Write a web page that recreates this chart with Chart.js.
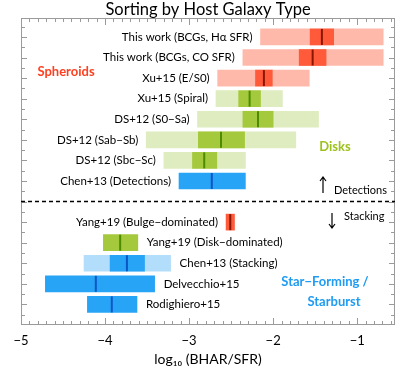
<!DOCTYPE html>
<html lang="en">
<head>
<meta charset="UTF-8" />
<title>Sorting by Host Galaxy Type</title>
<script src="https://cdn.jsdelivr.net/npm/chart.js"></script>
<style>
  html, body { margin: 0; background: #fff; }
  #wrap { width: 407px; height: 370px; }
</style>
</head>
<body>
<div id="wrap"><canvas id="chart"></canvas></div>
<script>
  // values (log10 BHAR/SFR)
  const names = [
    'This work (BCGs, H\u03b1 SFR)',
    'This work (BCGs, CO SFR)',
    'Xu+15 (E/S0)',
    'Xu+15 (Spiral)',
    'DS+12 (S0\u2212Sa)',
    'DS+12 (Sab\u2212Sb)',
    'DS+12 (Sbc\u2212Sc)',
    'Chen+13 (Detections)',
    'Yang+19 (Bulge\u2212dominated)',
    'Yang+19 (Disk\u2212dominated)',
    'Chen+13 (Stacking)',
    'Delvecchio+15',
    'Rodighiero+15'
  ];
  const rows     = [1, 2, 3, 4, 5, 6, 7, 8, 10, 11, 12, 13, 14];
  const outerLo  = [-2.15, -2.36, -2.66, -2.68, -2.90, -3.51, -3.30, null, null, null, -4.25, null, null];
  const outerHi  = [-0.69, -0.69, -1.57, -1.89, -1.46, -1.73, -2.33, null, null, null, -3.22, null, null];
  const innerLo  = [-1.56, -1.69, -2.21, -2.41, -2.36, -2.89, -2.96, -3.12, -2.56, -4.02, -3.94, -4.71, -4.21];
  const innerHi  = [-1.28, -1.37, -2.01, -2.15, -2.00, -2.34, -2.67, -2.33, -2.46, -3.61, -3.53, -3.41, -3.62];
  const medians  = [-1.42, -1.53, -2.11, -2.28, -2.18, -2.62, -2.82, -2.73, -2.51, -3.82, -3.74, -4.11, -3.92];
  const hostType = ['sph', 'sph', 'sph', 'disk', 'disk', 'disk', 'disk', 'sf', 'sph', 'disk', 'sf', 'sf', 'sf'];
  const xTicks   = [-5, -4, -3, -2, -1];

  const palette = {
    sph:  { outer: '#ffb9ab', inner: '#ff5b3b', median: '#8a1500' },
    disk: { outer: '#deecbf', inner: '#a5c93d', median: '#4d8c00' },
    sf:   { outer: '#b3defb', inner: '#27a4f6', median: '#0b56c4' }
  };
  const FONT = 'Lato, "DejaVu Sans", sans-serif';

  const outerData = rows.map((r, i) => ({ y: r, x: [outerLo[i], outerHi[i]], t: hostType[i] }))
                        .filter(d => d.x[0] !== null);
  const innerData = rows.map((r, i) => ({ y: r, x: [innerLo[i], innerHi[i]], t: hostType[i] }));
  const medData   = rows.map((r, i) => ({ y: r, x: medians[i] }));

  function arrow(ctx, x, y0, y1) {
    const dir = y1 < y0 ? -1 : 1;
    ctx.beginPath();
    ctx.moveTo(x, y0); ctx.lineTo(x, y1);
    ctx.moveTo(x - 3, y1 - dir * 4); ctx.lineTo(x, y1); ctx.lineTo(x + 3, y1 - dir * 4);
    ctx.stroke();
  }

  const overlay = {
    id: 'overlay',
    afterDatasetsDraw(chart) {
      const { ctx, chartArea: a, scales: { x, y } } = chart;
      ctx.save();

      // frame with inward ticks
      ctx.strokeStyle = '#9a9a9a';
      ctx.lineWidth = 1;
      ctx.strokeRect(a.left + 0.5, a.top + 0.5, a.width - 1, a.height - 1);
      ctx.beginPath();
      for (let k = -50; k <= -6; k++) {
        const px = Math.round(x.getPixelForValue(k / 10)) + 0.5;
        const len = k % 10 === 0 ? 7 : 4;
        ctx.moveTo(px, a.bottom); ctx.lineTo(px, a.bottom - len);
        ctx.moveTo(px, a.top); ctx.lineTo(px, a.top + len);
      }
      for (let k = 1; k <= 29; k++) {
        const py = Math.round(y.getPixelForValue(k / 2)) + 0.5;
        const len = k % 2 === 0 ? 6 : 4;
        ctx.moveTo(a.left, py); ctx.lineTo(a.left + len, py);
        ctx.moveTo(a.right, py); ctx.lineTo(a.right - len, py);
      }
      ctx.stroke();

      // detections / stacking divider
      const yd = y.getPixelForValue(9);
      ctx.strokeStyle = '#000';
      ctx.lineWidth = 1.5;
      ctx.setLineDash([4, 3]);
      ctx.beginPath();
      ctx.moveTo(a.left, yd); ctx.lineTo(a.right, yd);
      ctx.stroke();
      ctx.setLineDash([]);

      // bar labels
      ctx.fillStyle = '#000';
      ctx.font = '11.5px ' + FONT;
      ctx.textBaseline = 'middle';
      rows.forEach((r, i) => {
        const py = y.getPixelForValue(r);
        if (i < 9) {
          const lo = outerLo[i] !== null ? outerLo[i] : innerLo[i];
          ctx.textAlign = 'right';
          ctx.fillText(names[i], x.getPixelForValue(lo) - 8, py);
        } else {
          const hi = outerHi[i] !== null ? outerHi[i] : innerHi[i];
          ctx.textAlign = 'left';
          ctx.fillText(names[i], x.getPixelForValue(hi) + 9, py);
        }
      });

      // arrows
      ctx.lineWidth = 1.2;
      arrow(ctx, 323, 193, 177);
      arrow(ctx, 332, 213, 228);
      ctx.textAlign = 'left';
      ctx.font = '11px ' + FONT;
      ctx.fillText('Detections', 334, 190);
      ctx.fillText('Stacking', 344, 216);

      // group names
      ctx.font = 'bold 13px ' + FONT;
      ctx.textAlign = 'center';
      ctx.fillStyle = '#ff4020';
      ctx.fillText('Spheroids', 66, 72);
      ctx.fillStyle = '#9cc21c';
      ctx.fillText('Disks', 335, 147);
      ctx.fillStyle = '#1f9cf2';
      ctx.fillText('Star\u2212Forming /', 325, 282);
      ctx.fillText('Starburst', 334, 302);

      ctx.restore();
    }
  };

  new Chart(document.getElementById('chart'), {
    type: 'bar',
    data: {
      datasets: [
        {
          type: 'scatter',
          data: medData,
          pointStyle: 'line',
          pointRotation: 90,
          pointRadius: 8,
          pointBorderWidth: 2,
          pointBorderColor: hostType.map(t => palette[t].median),
          order: 0
        },
        {
          data: innerData,
          backgroundColor: c => palette[c.raw.t].inner,
          barThickness: 16,
          grouped: false,
          order: 1
        },
        {
          data: outerData,
          backgroundColor: c => palette[c.raw.t].outer,
          barThickness: 16,
          grouped: false,
          order: 2
        }
      ]
    },
    options: {
      indexAxis: 'y',
      responsive: true,
      maintainAspectRatio: false,
      animation: false,
      events: [],
      layout: { padding: { left: 21, right: 12 } },
      plugins: {
        legend: { display: false },
        tooltip: { enabled: false },
        title: {
          display: true,
          text: 'Sorting by Host Galaxy Type',
          color: '#000',
          font: { family: FONT, size: 16.5, weight: 'normal', lineHeight: 1 },
          padding: { top: 1, bottom: 0.5 }
        }
      },
      scales: {
        x: {
          type: 'linear',
          position: 'bottom',
          min: -5,
          max: -0.55,
          grid: { display: false, drawTicks: false },
          border: { display: false },
          afterBuildTicks: s => { s.ticks = xTicks.map(v => ({ value: v })); },
          afterFit: s => { s.height = 45; },
          ticks: {
            color: '#000',
            font: { family: FONT, size: 13 },
            padding: 8,
            maxRotation: 0,
            callback: v => (v < 0 ? '\u2212' + Math.abs(v) : String(v))
          },
          title: {
            display: true,
            text: 'log\u2081\u2080 (BHAR/SFR)',
            color: '#000',
            font: { family: FONT, size: 14 },
            padding: { top: 0, bottom: 2 }
          }
        },
        y: { type: 'linear', reverse: true, offset: false, min: 0.08, max: 15, display: false }
      }
    },
    plugins: [overlay]
  });
</script>
</body>
</html>
